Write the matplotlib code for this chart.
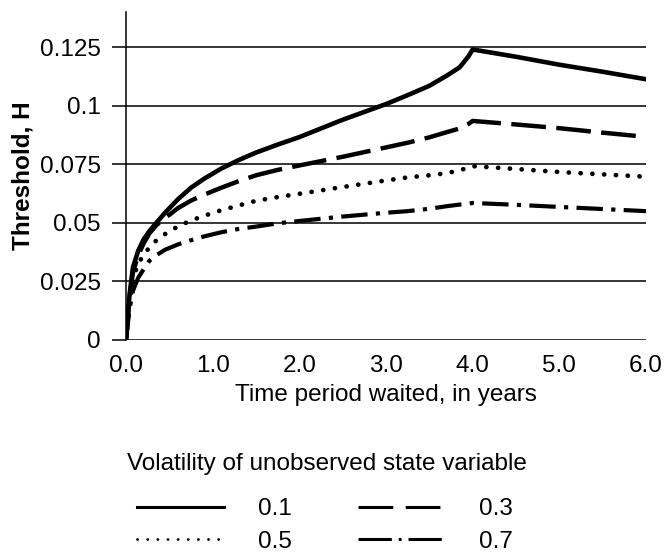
import matplotlib
matplotlib.use('Agg')
import matplotlib.pyplot as plt
from matplotlib.lines import Line2D

plt.rcParams['font.family'] = ['Liberation Sans', 'DejaVu Sans']
plt.rcParams['lines.scale_dashes'] = False

# time waited, years
years = [0, 0.04, 0.08, 0.14, 0.2, 0.27, 0.35, 0.45, 0.6, 0.75, 0.9, 1.1, 1.3,
         1.5, 1.75, 2.0, 2.5, 3.0, 3.25, 3.5, 3.7, 3.85, 3.95, 4.0, 4.5, 5.0,
         5.5, 6.0]

# threshold H for each volatility of the unobserved state variable
h_01 = [0, 0.019, 0.031, 0.038, 0.0427, 0.0465, 0.050, 0.0543, 0.0601, 0.065,
        0.0688, 0.0732, 0.0768, 0.0800, 0.0834, 0.0866, 0.0940, 0.1007, 0.1045,
        0.1085, 0.1128, 0.1164, 0.1210, 0.1240, 0.1209, 0.1175, 0.1145, 0.1113]
h_03 = [0, 0.018, 0.029, 0.036, 0.041, 0.0455, 0.049, 0.052, 0.0563, 0.0595,
        0.0620, 0.0650, 0.0678, 0.0703, 0.0726, 0.0745, 0.0782, 0.0822, 0.0842,
        0.0865, 0.0887, 0.0903, 0.0922, 0.0935, 0.0920, 0.0904, 0.0885, 0.0867]
h_05 = [0, 0.016, 0.026, 0.0325, 0.0362, 0.0395, 0.0425, 0.0452, 0.0485, 0.051,
        0.0530, 0.0554, 0.0574, 0.0594, 0.0610, 0.0624, 0.0653, 0.0681, 0.0694,
        0.0703, 0.0712, 0.0724, 0.0736, 0.0742, 0.0730, 0.0717, 0.0707, 0.0697]
h_07 = [0, 0.013, 0.021, 0.0265, 0.030, 0.0338, 0.0362, 0.0385, 0.0408, 0.0426,
        0.0442, 0.0460, 0.0474, 0.0484, 0.0498, 0.0508, 0.0527, 0.0543, 0.0550,
        0.0560, 0.0571, 0.0578, 0.0582, 0.0585, 0.0577, 0.0568, 0.0559, 0.0550]

vol_labels = ['0.1', '0.3', '0.5', '0.7']
x_ticks = [0, 1, 2, 3, 4, 5, 6]
x_ticklabels = ['0.0', '1.0', '2.0', '3.0', '4.0', '5.0', '6.0']
y_ticks = [0, 0.025, 0.05, 0.075, 0.1, 0.125]
y_ticklabels = ['0', '0.025', '0.05', '0.075', '0.1', '0.125']

FS = 17.5

fig = plt.figure(figsize=(6.66, 5.56), dpi=100)
ax = fig.add_axes([126 / 666, 1 - 340 / 556, 520 / 666, 328 / 556])

ax.plot(years, h_01, color='black', lw=3.3, solid_joinstyle='round')
ax.plot(years, h_03, color='black', lw=3.2, dashes=(25, 7.5))
ax.plot(years, h_05, color='black', lw=3.4, dashes=(0.1, 8.4),
        dash_capstyle='round')
ax.plot(years, h_07, color='black', lw=3.0, dashes=(19, 6, 3, 6))

ax.set_xlim(0, 6)
ax.set_ylim(0, 0.14)
ax.set_xticks(x_ticks)
ax.set_xticklabels(x_ticklabels)
ax.set_yticks(y_ticks)
ax.set_yticklabels(y_ticklabels)
ax.tick_params(axis='x', length=0, pad=11, labelsize=FS)
ax.tick_params(axis='y', length=10, width=1.1, pad=8, labelsize=FS)
ax.grid(axis='y', color='black', lw=1.1)
ax.set_axisbelow(True)
for s in ['top', 'right', 'bottom']:
    ax.spines[s].set_visible(False)
ax.spines['left'].set_linewidth(1.1)

ax.set_xlabel('Time period waited, in years', fontsize=FS, labelpad=5)
ax.set_ylabel('Threshold, H', fontsize=FS, fontweight='bold', labelpad=4)

# legend: title as plain text, entries in two columns underneath
fig.text(327 / 666, 1 - 464 / 556, 'Volatility of unobserved state variable',
         ha='center', va='center', fontsize=FS)

# legend handles are drawn thinner than the plotted curves
handles = [
    Line2D([], [], color='black', lw=2.2),
    Line2D([], [], color='black', lw=2.0, dashes=(0.1, 7.2), dash_capstyle='round'),
    Line2D([], [], color='black', lw=2.2, dashes=(25, 9)),
    Line2D([], [], color='black', lw=2.2, dashes=(24, 5, 2, 5)),
]
labels = [vol_labels[0], vol_labels[2], vol_labels[1], vol_labels[3]]
fig.legend(handles, labels, ncol=2, loc='center',
           bbox_to_anchor=(325 / 666, 1 - 525.5 / 556), frameon=False,
           fontsize=FS, handlelength=3.6,
           handletextpad=1.4, columnspacing=2.7, labelspacing=0.43)

fig.savefig('out.png', dpi=100)
